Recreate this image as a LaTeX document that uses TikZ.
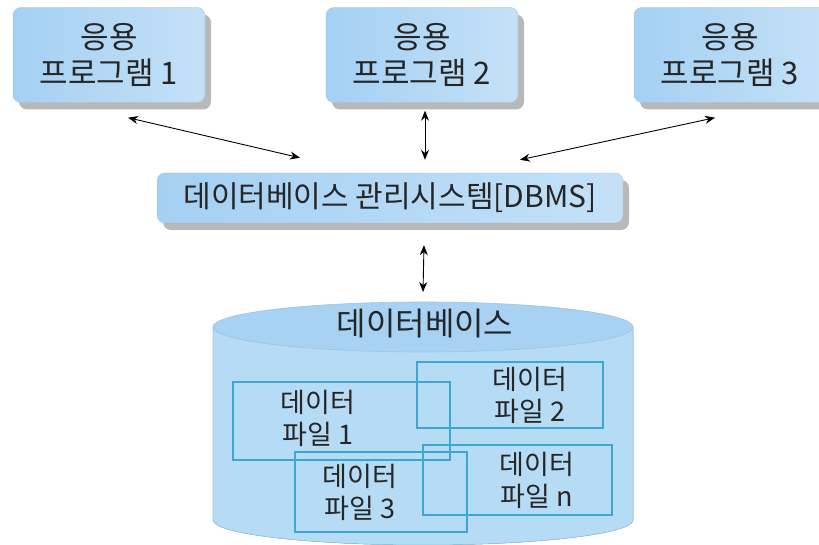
\documentclass[tikz,border=0pt]{standalone}
\usepackage{fontspec}
\setmainfont{Noto Sans CJK KR}
\usetikzlibrary{
    arrows.meta,
    shadows,
    positioning,
    calc
}
\definecolor{appblue}{HTML}{A4D0F3}
\definecolor{boxline}{HTML}{A9C6DF}
\definecolor{dbside}{HTML}{B6DBF5}
\definecolor{dbmid}{HTML}{EEF7FD}
\definecolor{dbtopc}{HTML}{A7D2F3}
\definecolor{dbline}{HTML}{9EC3E0}
\definecolor{filecyan}{HTML}{3FA6D4}
\definecolor{txtgray}{HTML}{262626}

\begin{document}
\begin{tikzpicture}[x=1pt, y=-1pt,
    appbox/.style={draw=boxline, rounded corners=8pt, left color=appblue, middle color=appblue!8, right color=appblue!65,
        drop shadow={shadow xshift=6pt, shadow yshift=-7pt, fill=black!28, opacity=1},
        minimum width=192pt, minimum height=95pt, align=center, inner sep=0pt, text=txtgray,
        font=\fontsize{31}{36}\selectfont},
    dbmsbox/.style={appbox, minimum width=466pt, minimum height=50pt, font=\fontsize{30}{32}\selectfont},
    filebox/.style={draw=filecyan, line width=1.1pt},
    filetxt/.style={align=center, text=txtgray, inner sep=0pt, font=\fontsize{27}{32}\selectfont},
    biarrow/.style={{Stealth[length=10pt,width=8pt]}-{Stealth[length=10pt,width=8pt]}, line width=0.9pt}
]
    \useasboundingbox (0,0) rectangle (819,545);

    % application programs
    \node[appbox] (app1) at (109,55) {응용\\프로그램 1};
    \node[appbox] (app2) at (422,55) {응용\\프로그램 2};
    \node[appbox] (app3) at (730,55) {응용\\프로그램 3};

    % DBMS
    \node[dbmsbox] (dbms) at (390,198) {데이터베이스 관리시스템[DBMS]};

    % database cylinder
    \fill[left color=dbside, middle color=dbmid, right color=dbside] (213,327) -- (213,520)
        arc[start angle=180, end angle=360, x radius=210pt, y radius=25pt] -- (633,327) -- cycle;
    \draw[dbline, line width=0.6pt] (213,327) -- (213,520)
        arc[start angle=180, end angle=360, x radius=210pt, y radius=25pt] -- (633,327);
    \draw[dbline, fill=dbtopc, line width=0.6pt] (423,327) ellipse[x radius=210pt, y radius=25pt];
    \coordinate (dbtop) at (423,302);
    \node[filetxt, font=\fontsize{32}{34}\selectfont] (dblabel) at (425,324) {데이터베이스};

    % data files
    \node[filebox, minimum width=217pt, minimum height=78pt] (f1) at (341.5,421) {};
    \node[filebox, minimum width=186pt, minimum height=66pt] (f2) at (510,395) {};
    \node[filebox, minimum width=172pt, minimum height=80pt] (f3) at (381,492) {};
    \node[filebox, minimum width=189pt, minimum height=70pt] (fn) at (517.5,480) {};
    \node[filetxt] (t1) at (318,418) {데이터\\파일 1};
    \node[filetxt] (t2) at (530,395) {데이터\\파일 2};
    \node[filetxt] (t3) at (360,492) {데이터\\파일 3};
    \node[filetxt] (tn) at (537,480) {데이터\\파일 n};

    % connectors
    \draw[biarrow] ([shift={(19,15)}]app1.south) -- ([shift={(-90,-15)}]dbms.north);
    \draw[biarrow] ([shift={(3,8)}]app2.south) -- ([shift={(35,-13)}]dbms.north);
    \draw[biarrow] ([shift={(-15,15)}]app3.south) -- ([shift={(130,-13)}]dbms.north);
    \draw[biarrow] ([shift={(34,22)}]dbms.south) -- ([shift={(0,-10)}]dbtop);
\end{tikzpicture}
\end{document}
